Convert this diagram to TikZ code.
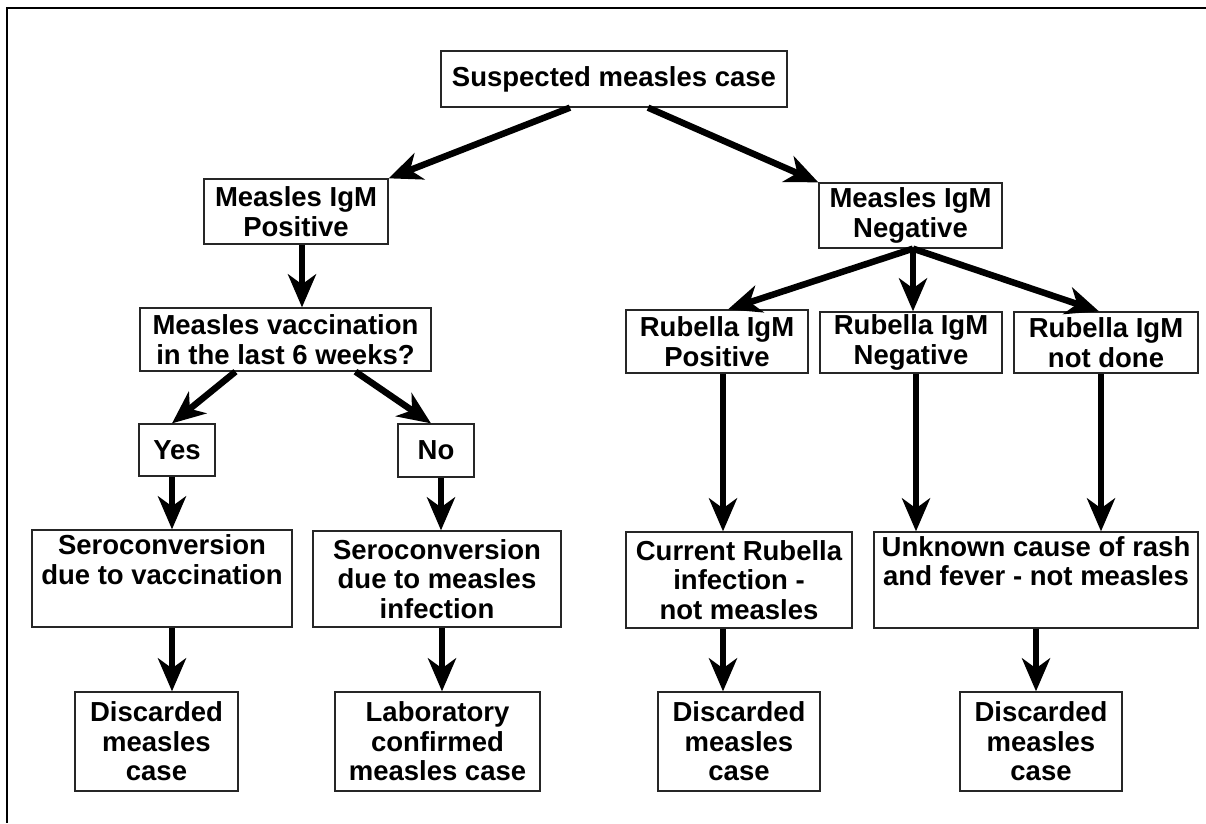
\documentclass[tikz,border=0pt]{standalone}
\usepackage{fontspec}
\setmainfont{Liberation Sans}
\usetikzlibrary{arrows.meta}
\begin{document}
\begin{tikzpicture}[x=1pt,y=-1pt,
  box/.style={draw=black!85, line width=1.3pt, align=center, inner sep=2pt,
    font=\fontsize{27.5}{29.5}\selectfont\bfseries},
  arr/.style={line width=6.5pt, -{Stealth[length=33pt,width=28pt,inset=10pt]}},
  frame/.style={line width=2.6pt, black}]
\useasboundingbox (0,0) rectangle (1206,823);
\draw[frame] (1206,8) -- (7,8) -- (7,823);
% boxes
\node[box, minimum width=346pt, minimum height=56pt] (susp) at (614,79) {Suspected measles case};
\node[box, minimum width=184pt, minimum height=65pt] (pos) at (296,211.5) {Measles IgM\\Positive};
\node[box, minimum width=291pt, minimum height=63pt] (vacc) at (285.5,339.5) {Measles vaccination\\in the last 6 weeks?};
\node[box, minimum width=183pt, minimum height=65pt] (neg) at (910.5,215.5) {Measles IgM\\Negative};
\node[box, minimum width=182pt, minimum height=63pt] (rpos) at (717,341.5) {Rubella IgM\\Positive};
\node[box, minimum width=182pt, minimum height=61pt] (rneg) at (911,342.5) {Rubella IgM\\Negative};
\node[box, minimum width=184pt, minimum height=61pt] (rnd) at (1106,342.5) {Rubella IgM\\not done};
\node[box, minimum width=76pt, minimum height=52pt] (yes) at (177,450) {Yes};
\node[box, minimum width=76pt, minimum height=53pt] (no) at (436,450.5) {No};
\node[box, minimum width=260pt, minimum height=97pt] (svac) at (162,578.5) {Seroconversion\\due to vaccination\\\strut};
\node[box, minimum width=248pt, minimum height=96pt] (smea) at (437,579) {Seroconversion\\due to measles\\infection};
\node[box, minimum width=226pt, minimum height=96pt] (cur) at (739,580) {Current Rubella\\infection -\\not measles};
\node[box, minimum width=324pt, minimum height=96pt] (unk) at (1036,580) {Unknown cause of rash\\and fever - not measles\\\strut};
\node[box, minimum width=163pt, minimum height=99pt] (d1) at (156.5,741.5) {Discarded\\measles\\case};
\node[box, minimum width=205pt, minimum height=99pt] (lab) at (437.5,741.5) {Laboratory\\confirmed\\measles case};
\node[box, minimum width=162pt, minimum height=99pt] (d3) at (739,741.5) {Discarded\\measles\\case};
\node[box, minimum width=162pt, minimum height=99pt] (d4) at (1041,741.5) {Discarded\\measles\\case};
% arrows
\draw[arr] ([xshift=-44pt]susp.south) -- (pos.north east);
\draw[arr] ([xshift=34pt]susp.south) -- (neg.north west);
\draw[arr] ([xshift=6pt]pos.south) -- ([xshift=16.5pt]vacc.north);
\draw[arr] ([xshift=-50pt]vacc.south) -- ([xshift=-5pt]yes.north);
\draw[arr] ([xshift=70pt]vacc.south) -- ([xshift=-5pt]no.north);
\draw[arr] ([xshift=-5pt]yes.south) -- ([xshift=10pt]svac.north);
\draw[arr] ([xshift=5pt]no.south) -- ([xshift=4pt]smea.north);
\draw[arr] ([xshift=10pt]svac.south) -- ([xshift=15.5pt]d1.north);
\draw[arr] ([xshift=5pt]smea.south) -- ([xshift=4.5pt]lab.north);
\draw[arr] ([xshift=2.5pt]neg.south) -- ([xshift=11pt]rpos.north);
\draw[arr] ([xshift=2.5pt]neg.south) -- ([xshift=2pt]rneg.north);
\draw[arr] ([xshift=2.5pt]neg.south) -- ([xshift=-7pt]rnd.north);
\draw[arr] ([xshift=6pt]rpos.south) -- ([xshift=-16pt]cur.north);
\draw[arr] ([xshift=5pt]rneg.south) -- ([xshift=-120pt]unk.north);
\draw[arr] ([xshift=-5pt]rnd.south) -- ([xshift=65pt]unk.north);
\draw[arr] ([xshift=-16pt]cur.south) -- ([xshift=-16pt]d3.north);
\draw[arr] (unk.south) -- ([xshift=-5pt]d4.north);
\end{tikzpicture}
\end{document}
